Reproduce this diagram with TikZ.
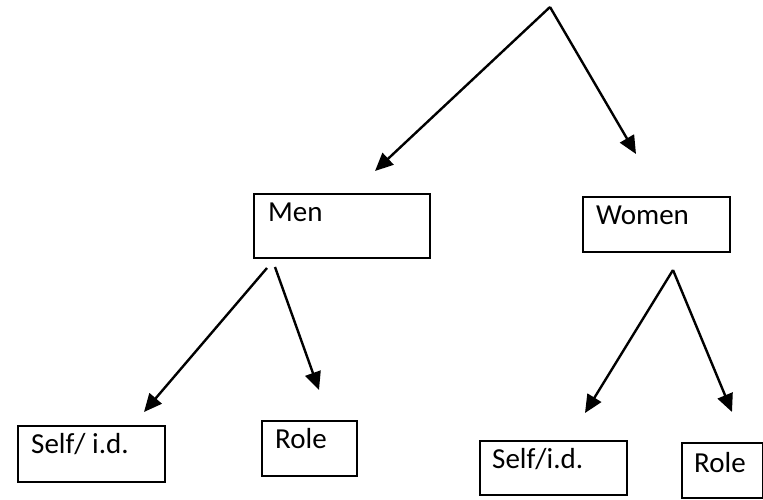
\documentclass[tikz,border=0pt]{standalone}
\usepackage{fontspec}
\setmainfont{Carlito}
\usetikzlibrary{arrows.meta}
\begin{document}
\begin{tikzpicture}[x=1pt,y=-1pt,
  box/.style={draw=black,line width=2.4pt,inner sep=0pt,anchor=north west},
  lab/.style={inner sep=0pt,anchor=base west,font=\fontsize{29}{31}\selectfont},
  arr/.style={line width=2.4pt,-{Triangle[length=18pt,width=16pt]}}]
\useasboundingbox[fill=white] (0,0) rectangle (763,499);
% boxes
\node[box,minimum width=176pt,minimum height=64pt] (men) at (253,193) {};
\node[box,minimum width=147pt,minimum height=55pt] (women) at (582,196) {};
\node[box,minimum width=147pt,minimum height=56pt] (selfL) at (17,425) {};
\node[box,minimum width=95pt,minimum height=55pt] (roleL) at (261,420) {};
\node[box,minimum width=147pt,minimum height=54pt] (selfR) at (479,440) {};
\node[box,minimum width=81pt,minimum height=55pt] (roleR) at (681,442) {};
% labels
\node[lab] (tmen) at (268,221) {Men};
\node[lab] (twomen) at (596,224) {Women};
\node[lab] (tselfL) at (31,453) {Self/ i.d.};
\node[lab] (troleL) at (275,448) {Role};
\node[lab] (tselfR) at (492,468) {Self/i.d.};
\node[lab] (troleR) at (694,472) {Role};
% connector points
\coordinate (top) at (550,7);
\coordinate (tmL) at (375,171);
\coordinate (twR) at (636,154);
\coordinate (mA) at (267,268);
\coordinate (mB) at (275,267);
\coordinate (mL) at (144,412);
\coordinate (mR) at (319,390);
\coordinate (wA) at (673,270);
\coordinate (wL) at (585,413);
\coordinate (wR) at (732,412);
% arrows
\draw[arr] (top) -- (tmL);
\draw[arr] (top) -- (twR);
\draw[arr] (mA) -- (mL);
\draw[arr] (mB) -- (mR);
\draw[arr] (wA) -- (wL);
\draw[arr] (wA) -- (wR);
\end{tikzpicture}
\end{document}
